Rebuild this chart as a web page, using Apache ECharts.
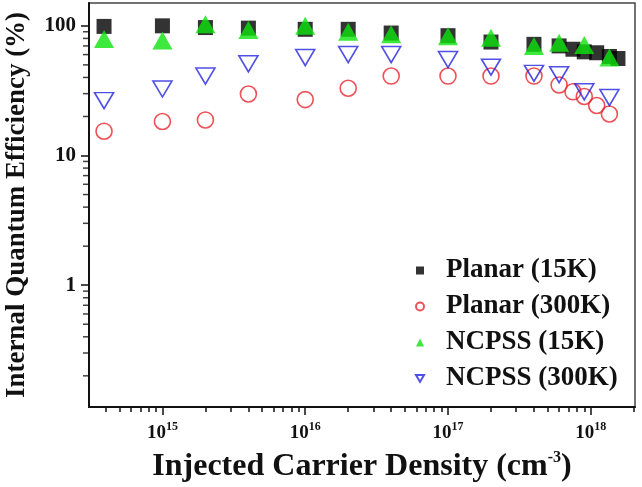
<!DOCTYPE html>
<html>
<head>
<meta charset="utf-8">
<script src="https://cdn.jsdelivr.net/npm/echarts@6/dist/echarts.min.js"></script>
<style>
  html, body { margin: 0; padding: 0; background: #fff; }
  #chart { width: 642px; height: 487px; }
</style>
</head>
<body>
<div id="chart"></div>
<script>
// injected carrier density (cm^-3) for each series
var planar15kX  = [3.9e14, 1e15, 2e15, 4e15, 1e16, 2e16, 4e16, 1e17, 2e17, 4e17, 6e17, 7.5e17, 9e17, 1.1e18, 1.35e18, 1.55e18];
var planar15kY  = [99, 100, 97, 96, 94, 94, 88, 84, 75, 72, 70, 66, 63, 62, 58, 56];
var planar300kX = [3.9e14, 1e15, 2e15, 4e15, 1e16, 2e16, 4e16, 1e17, 2e17, 4e17, 6e17, 7.5e17, 9e17, 1.1e18, 1.35e18];
var planar300kY = [15.4, 18.3, 18.8, 29.8, 27, 33, 41, 41, 41, 41, 35, 31, 28.5, 24.3, 20.9];
var ncpss15kX   = [3.9e14, 1e15, 2e15, 4e15, 1e16, 2e16, 4e16, 1e17, 2e17, 4e17, 6e17, 9e17, 1.35e18];
var ncpss15kY   = [79, 77, 103, 93, 100, 90, 86, 83, 81, 70, 74, 71, 57];
var ncpss300kX  = [3.9e14, 1e15, 2e15, 4e15, 1e16, 2e16, 4e16, 1e17, 2e17, 4e17, 6e17, 9e17, 1.35e18];
var ncpss300kY  = [26.5, 32.6, 41, 51, 57, 60, 60, 55, 48, 43, 42, 31, 28];

// tick labels
var xMajorTicks = [1e15, 1e16, 1e17, 1e18];
var yMajorTicks = [1, 10, 100];

var seriesNames = ['Planar (15K)', 'Planar (300K)', 'NCPSS (15K)', 'NCPSS (300K)'];

function pairs(xs, ys) {
    return xs.map(function (x, i) { return [x, ys[i]]; });
}
// minor ticks 2..9 of every decade inside [lo, hi]
function minorTicks(lo, hi) {
    var out = [];
    for (var e = Math.floor(Math.log10(lo)); e <= Math.ceil(Math.log10(hi)); e++) {
        for (var k = 2; k <= 9; k++) {
            var v = parseFloat((k * Math.pow(10, e)).toPrecision(6));
            if (v > lo && v < hi) out.push(v);
        }
    }
    return out;
}

var xMin = 3.06e14, xMax = 2.04e18;
var yMin = 0.115, yMax = 150;
var serif = 'Liberation Serif';
var downTriangle = 'path://M0,0 L20,0 L10,17 Z';

var chart = echarts.init(document.getElementById('chart'));
chart.setOption({
    animation: false,
    grid: {
        left: 89, right: 7, top: 3, bottom: 80,
        outerBoundsMode: 'none',
        containLabel: false,
        show: true,
        borderColor: '#444',
        borderWidth: 1.5
    },
    legend: {
        data: seriesNames,
        orient: 'vertical',
        left: 410,
        top: 252,
        itemWidth: 8,
        itemHeight: 8,
        itemGap: 9,
        textStyle: {
            fontFamily: serif, fontWeight: 'bold', fontSize: 27, color: '#111',
            padding: [0, 0, 0, 17]
        }
    },
    xAxis: [{
        type: 'log',
        min: xMin, max: xMax,
        name: 'Injected Carrier Density (cm{s|-3})',
        nameLocation: 'middle',
        nameGap: 43,
        nameTextStyle: {
            fontFamily: serif, fontWeight: 'bold', fontSize: 32, color: '#111',
            rich: { s: { fontFamily: serif, fontWeight: 'bold', fontSize: 16, color: '#111', padding: [0, 0, 18, 0] } }
        },
        axisLine: { onZero: false, lineStyle: { color: '#111', width: 2 } },
        axisTick: { customValues: xMajorTicks, length: 8, lineStyle: { color: '#111', width: 1.5 } },
        axisLabel: {
            customValues: xMajorTicks,
            margin: 14,
            formatter: function (v) {
                return '{b|10}{s|' + Math.round(Math.log10(v)) + '}';
            },
            rich: {
                b: { fontFamily: serif, fontWeight: 'bold', fontSize: 19, color: '#111' },
                s: { fontFamily: serif, fontWeight: 'bold', fontSize: 12, color: '#111', padding: [0, 0, 12, 0] }
            }
        },
        splitLine: { show: false }
    }, {
        type: 'log',
        min: xMin, max: xMax,
        position: 'bottom',
        offset: 0,
        axisLine: { show: false, onZero: false },
        axisTick: { customValues: minorTicks(xMin, xMax), length: 5, lineStyle: { color: '#111', width: 1.5 } },
        axisLabel: { show: false },
        splitLine: { show: false }
    }],
    yAxis: {
        type: 'log',
        min: yMin, max: yMax,
        name: 'Internal Quantum Efficiency (%)',
        nameLocation: 'middle',
        nameRotate: 90,
        nameGap: 58,
        nameTextStyle: { fontFamily: serif, fontWeight: 'bold', fontSize: 27, color: '#111' },
        axisLine: { onZero: false, lineStyle: { color: '#111', width: 2 } },
        axisTick: { customValues: yMajorTicks, length: 8, lineStyle: { color: '#111', width: 1.5 } },
        axisLabel: {
            customValues: yMajorTicks,
            margin: 13,
            fontFamily: serif, fontWeight: 'bold', fontSize: 21, color: '#111'
        },
        splitLine: { show: false }
    },
    series: [{
        name: seriesNames[0],
        type: 'scatter',
        symbol: 'rect',
        symbolSize: 15,
        itemStyle: { color: '#000' },
        data: pairs(planar15kX, planar15kY)
    }, {
        name: seriesNames[1],
        type: 'scatter',
        symbol: 'circle',
        symbolSize: 16,
        itemStyle: { color: 'rgba(255,255,255,0)', borderColor: '#e8262e', borderWidth: 1.6 },
        data: pairs(planar300kX, planar300kY)
    }, {
        name: seriesNames[2],
        type: 'scatter',
        symbol: 'triangle',
        symbolSize: [20, 18],
        itemStyle: { color: '#0be40b' },
        data: pairs(ncpss15kX, ncpss15kY)
    }, {
        name: seriesNames[3],
        type: 'scatter',
        symbol: downTriangle,
        symbolSize: [19, 16],
        itemStyle: { color: 'rgba(255,255,255,0)', borderColor: '#2424e0', borderWidth: 1.6 },
        data: pairs(ncpss300kX, ncpss300kY)
    }, {
        // minor ticks of the y axis (the vertical axis thins out dense custom ticks)
        name: 'y minor ticks',
        type: 'scatter',
        silent: true,
        clip: false,
        symbol: 'rect',
        symbolSize: [5, 1.5],
        symbolOffset: [-3.5, 0],
        itemStyle: { color: '#111' },
        data: minorTicks(yMin, yMax).map(function (v) { return [xMin, v]; })
    }]
});
</script>
</body>
</html>
